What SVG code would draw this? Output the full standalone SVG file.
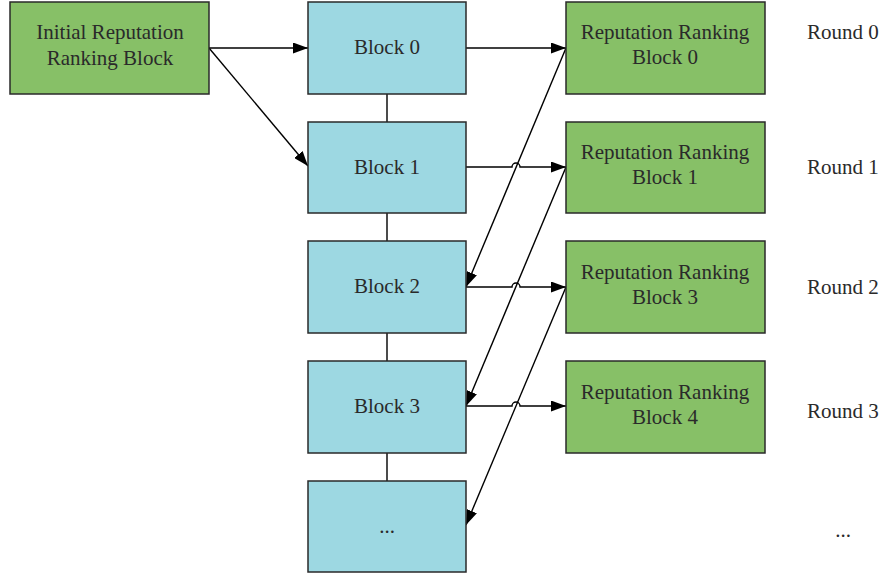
<svg xmlns="http://www.w3.org/2000/svg" width="881" height="576" viewBox="0 0 881 576">
<defs>
<marker id="ah" viewBox="0 0 15 11" refX="15" refY="5.5" markerWidth="15" markerHeight="11" markerUnits="userSpaceOnUse" orient="auto">
<path d="M0,0 L15,5.5 L0,11 Z" fill="#000"/>
</marker>
<style>
.g{fill:#87C067;stroke:#2a2a2a;stroke-width:1.5}
.b{fill:#9DD8E2;stroke:#2a2a2a;stroke-width:1.5}
text{font-family:"Liberation Serif","Times New Roman",serif;font-size:21px;fill:#2a2a2a;text-anchor:middle}
.r{text-anchor:start}
.c{fill:none;stroke:#000;stroke-width:1.4}
</style>
</defs>
<rect width="881" height="576" fill="#fff"/>
<g id="connectors">
<path class="c" d="M387,94V122M387,213V241M387,333V361M387,453V481"/>
<path class="c" d="M209,48H308" marker-end="url(#ah)"/>
<path class="c" d="M209,48L308,166" marker-end="url(#ah)"/>
<path class="c" d="M466,48H566" marker-end="url(#ah)"/>
<path class="c" d="M466,167H512a4,4 0 0 1 8,0H566" marker-end="url(#ah)"/>
<path class="c" d="M466,287H512a4,4 0 0 1 8,0H566" marker-end="url(#ah)"/>
<path class="c" d="M466,406H512a4,4 0 0 1 8,0H566" marker-end="url(#ah)"/>
<path class="c" d="M566,48L466,287" marker-end="url(#ah)"/>
<path class="c" d="M566,167L466,406" marker-end="url(#ah)"/>
<path class="c" d="M566,287L466,525" marker-end="url(#ah)"/>
</g>
<g id="initial"><rect class="g" x="10" y="2" width="199" height="92"/><text x="110" y="39">Initial Reputation</text><text x="110" y="65">Ranking Block</text></g>
<g id="block0"><rect class="b" x="308" y="2" width="158" height="92"/><text x="387" y="54">Block 0</text></g>
<g id="block1"><rect class="b" x="308" y="122" width="158" height="91"/><text x="387" y="174">Block 1</text></g>
<g id="block2"><rect class="b" x="308" y="241" width="158" height="92"/><text x="387" y="293">Block 2</text></g>
<g id="block3"><rect class="b" x="308" y="361" width="158" height="92"/><text x="387" y="413">Block 3</text></g>
<g id="blockn"><rect class="b" x="308" y="481" width="158" height="91"/><text x="387" y="533">...</text></g>
<g id="rr0"><rect class="g" x="566" y="2" width="199" height="92"/><text x="665" y="39">Reputation Ranking</text><text x="665" y="64">Block 0</text></g>
<g id="rr1"><rect class="g" x="566" y="122" width="199" height="91"/><text x="665" y="159">Reputation Ranking</text><text x="665" y="184">Block 1</text></g>
<g id="rr3"><rect class="g" x="566" y="241" width="199" height="92"/><text x="665" y="279">Reputation Ranking</text><text x="665" y="304">Block 3</text></g>
<g id="rr4"><rect class="g" x="566" y="361" width="199" height="92"/><text x="665" y="399">Reputation Ranking</text><text x="665" y="424">Block 4</text></g>
<g id="rounds">
<text class="r" x="807" y="39">Round 0</text>
<text class="r" x="807" y="174">Round 1</text>
<text class="r" x="807" y="294">Round 2</text>
<text class="r" x="807" y="418">Round 3</text>
<text x="843" y="537">...</text>
</g>
</svg>
